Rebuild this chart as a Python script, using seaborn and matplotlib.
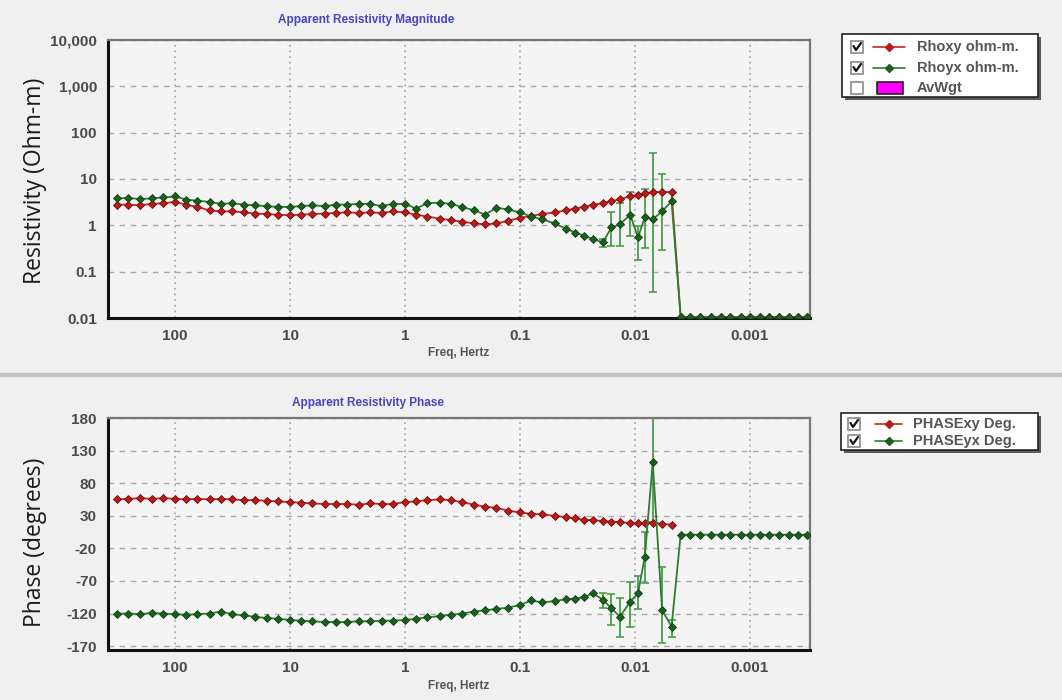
import matplotlib
matplotlib.use("Agg")
import matplotlib.pyplot as plt
import seaborn as sns
import pandas as pd
from matplotlib.lines import Line2D
from matplotlib.patches import Rectangle
from matplotlib.ticker import FixedLocator, FixedFormatter, NullFormatter, NullLocator, LogLocator

# ---------------- data ----------------
freq = [320, 256, 200, 160, 128, 100, 80, 64, 50, 40, 32, 25, 20, 16, 12.8, 10,
        8, 6.4, 5, 4, 3.2, 2.5, 2, 1.6, 1.28, 1, 0.8, 0.64, 0.5, 0.4, 0.32, 0.25,
        0.2, 0.16, 0.128, 0.1, 0.08, 0.064, 0.05, 0.04, 0.033,
        0.028, 0.023, 0.019, 0.016, 0.0135, 0.011, 0.0094, 0.0082, 0.0070, 0.0058, 0.0048]

rho_xy = [2.8, 2.8, 2.7, 2.9, 3.0, 3.2, 2.8, 2.5, 2.1, 2.0, 2.0, 1.9, 1.8, 1.75, 1.7, 1.65,
          1.7, 1.75, 1.8, 1.85, 1.9, 1.85, 1.9, 1.85, 2.0, 1.9, 1.7, 1.55, 1.4, 1.3, 1.2, 1.1,
          1.05, 1.1, 1.25, 1.45, 1.6, 1.75, 1.9, 2.1, 2.3,
          2.5, 2.8, 3.0, 3.3, 3.7, 4.2, 4.5, 4.9, 5.2, 5.3, 5.2]

rho_yx = [3.8, 3.9, 3.7, 3.8, 4.0, 4.2, 3.6, 3.4, 3.2, 2.9, 3.0, 2.8, 2.7, 2.6, 2.5, 2.5,
          2.6, 2.7, 2.6, 2.8, 2.8, 2.9, 2.9, 2.6, 2.9, 2.9, 2.3, 3.0, 3.1, 2.9, 2.5, 2.1,
          1.7, 2.4, 2.2, 1.9, 1.55, 1.35, 1.1, 0.85, 0.7,
          0.6, 0.5, 0.43, 0.9, 1.05, 1.7, 0.55, 1.5, 1.35, 2.0, 3.3]

phase_xy = [55, 56, 57, 56, 57, 56, 55, 56, 55, 56, 55, 54, 54, 53, 52, 51,
            50, 49, 48, 48, 48, 47, 49, 48, 48, 51, 52, 54, 55, 54, 51, 47,
            44, 42, 38, 35, 33, 32, 30, 28, 26,
            24, 23, 22, 21, 20, 19, 19, 19, 19, 18, 16]

phase_yx = [-120, -120, -121, -119, -120, -121, -122, -121, -120, -117, -121, -123, -125, -127, -128, -130,
            -131, -132, -133, -133, -133, -132, -132, -131, -131, -130, -128, -126, -124, -122, -120, -117,
            -115, -113, -111, -107, -100, -103, -101, -98, -97,
            -95, -89, -99, -112, -125, -102, -89, -33, 112, -115, -140]

# frequencies past the last valid estimate (flat / dropped values)
freq_tail = [0.0040, 0.0033, 0.0027, 0.0022, 0.0018, 0.0015, 0.0012, 0.0010,
             0.00082, 0.00068, 0.00056, 0.00046, 0.00038, 0.00032]
rho_tail = [0.0105] * len(freq_tail)
phase_tail = [1] * len(freq_tail)

# error bars (Rhoyx / PHASEyx)
err_freq = [0.019, 0.016, 0.0135, 0.011, 0.0094, 0.0082, 0.0070, 0.0058]
rho_err_lo = [0.34, 0.35, 0.35, 0.58, 0.18, 0.33, 0.037, 0.3]
rho_err_hi = [0.5, 1.9, 3.1, 5.2, 0.95, 6.0, 37.0, 12.6]
err_freq_ph = [0.019, 0.016, 0.0135, 0.011, 0.0094, 0.0082, 0.0070, 0.0058, 0.0048]
ph_err_lo = [-112, -138, -156, -140, -113, -73, 20, -165, -156]
ph_err_hi = [-88, -90, -96, -72, -62, 5, 230, -49, -130]

rho_ticks = [0.01, 0.1, 1, 10, 100, 1000, 10000]
rho_labels = ["0.01", "0.1", "1", "10", "100", "1,000", "10,000"]
ph_ticks = [180, 130, 80, 30, -20, -70, -120, -170]
x_ticks = [100, 10, 1, 0.1, 0.01, 0.001]
x_labels = ["100", "10", "1", "0.1", "0.01", "0.001"]

# ---------------- style ----------------
sns.set_style("white")
plt.rcParams["font.family"] = ["Liberation Sans", "DejaVu Sans"]
plt.rcParams["axes.unicode_minus"] = False

W, H = 1062, 700
BG = "#f0f0f0"
RED_L, RED_M, RED_E = "#c62828", "#b71c1c", "#7a0a0a"
GRN_L, GRN_M, GRN_E = "#2e7d32", "#1b5e20", "#0f420f"
ERR = "#4a9d4a"
TICKC = "#4a4a4a"

fig = plt.figure(figsize=(W / 100, H / 100), dpi=100, facecolor=BG)


def fx(x):
    return x / W


def fy(y):
    return 1 - y / H


ax1 = fig.add_axes([fx(108), fy(318), 702 / W, 278 / H])
ax2 = fig.add_axes([fx(108), fy(650), 702 / W, 232 / H])

top = pd.DataFrame({"f": freq + freq_tail, "rxy": rho_xy + rho_tail})
top_g = pd.DataFrame({"f": freq + freq_tail, "ryx": rho_yx + rho_tail})
bot_r = pd.DataFrame({"f": freq, "pxy": phase_xy})
bot_g = pd.DataFrame({"f": freq + freq_tail, "pyx": phase_yx + phase_tail})

mk = dict(marker="D", markersize=4.0, markeredgewidth=0.6, linewidth=1.3,
          errorbar=None, sort=False, legend=False)

for ax in (ax1, ax2):
    ax.set_facecolor("#f4f4f4")
    ax.set_xscale("log")

ax1.set_yscale("log")

# --- top panel ---
ax1.errorbar(err_freq, [rho_yx[freq.index(f)] for f in err_freq],
             yerr=[[rho_yx[freq.index(f)] - lo for f, lo in zip(err_freq, rho_err_lo)],
                   [hi - rho_yx[freq.index(f)] for f, hi in zip(err_freq, rho_err_hi)]],
             fmt="none", ecolor=ERR, elinewidth=1.3, capsize=3, capthick=1.2, zorder=2)
sns.lineplot(data=top, x="f", y="rxy", ax=ax1, color=RED_L, markerfacecolor=RED_M,
             markeredgecolor=RED_E, zorder=3, **mk)
sns.lineplot(data=top_g, x="f", y="ryx", ax=ax1, color=GRN_L, markerfacecolor=GRN_M,
             markeredgecolor=GRN_E, zorder=4, **mk)

# --- bottom panel ---
ax2.errorbar(err_freq_ph, [phase_yx[freq.index(f)] for f in err_freq_ph],
             yerr=[[phase_yx[freq.index(f)] - lo for f, lo in zip(err_freq_ph, ph_err_lo)],
                   [hi - phase_yx[freq.index(f)] for f, hi in zip(err_freq_ph, ph_err_hi)]],
             fmt="none", ecolor=ERR, elinewidth=1.3, capsize=3, capthick=1.2, zorder=2)
sns.lineplot(data=bot_r, x="f", y="pxy", ax=ax2, color=RED_L, markerfacecolor=RED_M,
             markeredgecolor=RED_E, zorder=3, **mk)
sns.lineplot(data=bot_g, x="f", y="pyx", ax=ax2, color=GRN_L, markerfacecolor=GRN_M,
             markeredgecolor=GRN_E, zorder=4, **mk)

# --- axes formatting ---
ax1.set_ylim(0.01, 10000)
ax1.yaxis.set_major_locator(FixedLocator(rho_ticks))
ax1.yaxis.set_major_formatter(FixedFormatter(rho_labels))
ax1.yaxis.set_minor_locator(NullLocator())
ax2.set_ylim(-176, 180)
ax2.yaxis.set_major_locator(FixedLocator(ph_ticks))

for ax in (ax1, ax2):
    ax.set_xlim(383, 0.0003)
    ax.xaxis.set_major_locator(FixedLocator(x_ticks))
    ax.xaxis.set_major_formatter(FixedFormatter(x_labels))
    ax.xaxis.set_minor_locator(LogLocator(base=10, subs=(2, 3, 5), numticks=20))
    ax.xaxis.set_minor_formatter(NullFormatter())
    ax.grid(False)
    for t in ax.get_yticks():
        ax.axhline(t, color="#a8a8a8", lw=1.0, ls=(0, (4, 4)), zorder=0.5)
    for t in x_ticks:
        ax.axvline(t, color="#a0a0a0", lw=1.1, ls=(0, (1.2, 2.5)), zorder=0.5)
    ax.tick_params(axis="both", which="major", direction="out", length=4, width=1,
                   color="#555555", labelsize=11, labelcolor=TICKC, pad=4)
    ax.tick_params(axis="x", which="minor", direction="out", length=2.5, width=1, color="#555555")
    for lab in ax.get_xticklabels() + ax.get_yticklabels():
        lab.set_fontweight("bold")
    ax.spines["left"].set_color("#111111")
    ax.spines["left"].set_linewidth(2.2)
    ax.spines["bottom"].set_color("#111111")
    ax.spines["bottom"].set_linewidth(2.2)
    ax.spines["top"].set_color("#777777")
    ax.spines["top"].set_linewidth(1.6)
    ax.spines["right"].set_color("#777777")
    ax.spines["right"].set_linewidth(1.6)
    ax.set_xlabel("")
    ax.set_ylabel("")

# labels
ylab_font = dict(family=["Open Sans", "DejaVu Sans"], fontsize=16.5, color="#1a1a1a")
fig.text(fx(35), fy(181), "Resistivity (Ohm-m)", rotation=90, ha="center", va="center", **ylab_font)
fig.text(fx(35), fy(542), "Phase (degrees)", rotation=90, ha="center", va="center", **ylab_font)
fig.text(fx(459), fy(353), "Freq, Hertz", ha="center", va="center", fontsize=8.5,
         fontweight="bold", color="#555555")
fig.text(fx(459), fy(686), "Freq, Hertz", ha="center", va="center", fontsize=8.5,
         fontweight="bold", color="#555555")
fig.text(fx(366), fy(20), "Apparent Resistivity Magnitude", ha="center", va="center",
         fontsize=8.5, fontweight="bold", color="#4646c0")
fig.text(fx(368), fy(403), "Apparent Resistivity Phase", ha="center", va="center",
         fontsize=8.5, fontweight="bold", color="#4646c0")

# separator between the two panels
fig.add_artist(Line2D([0, 1], [fy(375), fy(375)], color="#c4c4c4", lw=3,
                      transform=fig.transFigure))


# ---------------- legends (checkbox style) ----------------
def px_rect(x0, y0, x1, y1, **kw):
    return Rectangle((fx(x0), fy(y1)), (x1 - x0) / W, (y1 - y0) / H,
                     transform=fig.transFigure, **kw)


def draw_legend(box, rows, row_y, cb_x, line_x, text_x):
    x0, y0, x1, y1 = box
    fig.add_artist(px_rect(x0 + 3, y0 + 3, x1 + 3, y1 + 3, facecolor="#5a5a5a",
                           edgecolor="none", zorder=5))
    fig.add_artist(px_rect(x0, y0, x1, y1, facecolor="white", edgecolor="#222222",
                           lw=1.2, zorder=6))
    for (label, kind, color, face, checked), yy in zip(rows, row_y):
        fig.add_artist(px_rect(cb_x, yy - 6, cb_x + 12, yy + 6, facecolor="white",
                               edgecolor="#8a8a8a", lw=1.2, zorder=7))
        if checked:
            fig.add_artist(Line2D([fx(cb_x + 2.5), fx(cb_x + 5), fx(cb_x + 10)],
                                  [fy(yy - 1), fy(yy + 3), fy(yy - 4)], color="#111111",
                                  lw=1.6, transform=fig.transFigure, zorder=8))
        if kind == "line":
            fig.add_artist(Line2D([fx(line_x[0]), fx(line_x[1])], [fy(yy), fy(yy)],
                                  color=color, lw=1.2, transform=fig.transFigure, zorder=8))
            fig.add_artist(Line2D([fx((line_x[0] + line_x[1]) / 2)], [fy(yy)], marker="D",
                                  markersize=4.2, color=face, markeredgecolor=face,
                                  transform=fig.transFigure, zorder=9))
        else:
            fig.add_artist(px_rect(line_x[0] + 4, yy - 6, line_x[1] - 2, yy + 6,
                                   facecolor="#ff00ff", edgecolor="#222222", lw=1.2, zorder=8))
        fig.text(fx(text_x), fy(yy), label, ha="left", va="center", fontsize=10.5,
                 fontweight="bold", color="#555555", zorder=9)


draw_legend((842, 34, 1038, 97),
            [("Rhoxy ohm-m.", "line", RED_L, RED_M, True),
             ("Rhoyx ohm-m.", "line", GRN_L, GRN_M, True),
             ("AvWgt", "box", None, None, False)],
            [47, 68, 88], 851, (873, 905), 917)

draw_legend((841, 413, 1038, 450),
            [("PHASExy Deg.", "line", RED_L, RED_M, True),
             ("PHASEyx Deg.", "line", GRN_L, GRN_M, True)],
            [424, 441], 848, (875, 902), 913)

fig.savefig("out.png", dpi=100, facecolor=BG)
